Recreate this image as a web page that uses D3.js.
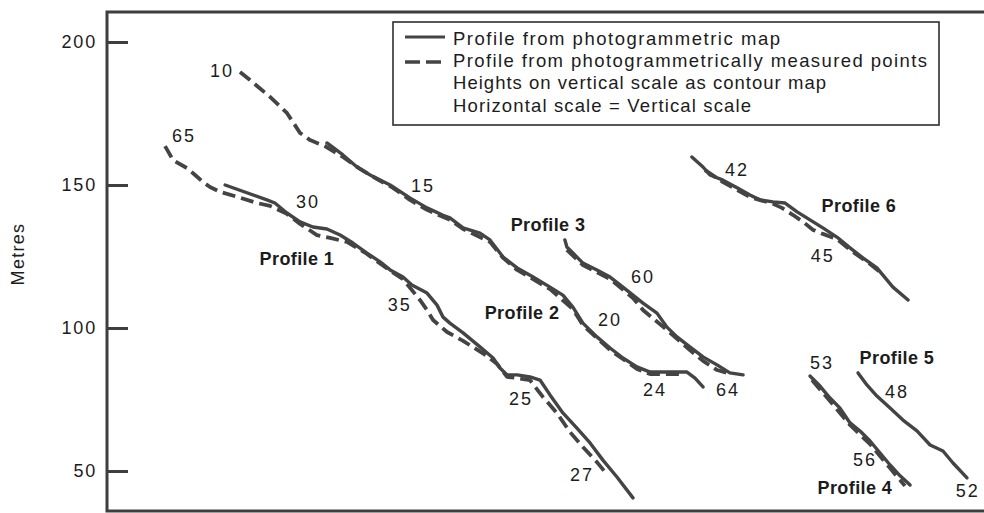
<!DOCTYPE html>
<html>
<head>
<meta charset="utf-8">
<script src="https://cdn.jsdelivr.net/npm/d3@7/dist/d3.min.js"></script>
<style>
  html, body { margin: 0; padding: 0; background: #fff; }
  svg { display: block; }
  text { font-family: "Liberation Sans", Arial, Helvetica, sans-serif; fill: #1c1c1c; }
</style>
</head>
<body>
<svg id="chart" width="984" height="513"></svg>
<script>
// ---- Data (horizontal distance in metres, height in metres) ----
const yTicks = [50, 100, 150, 200];
const yLabel = "Metres";

const profile1Map = [[41.3,150.0],[55.9,144.8],[58.7,143.7],[62.9,140.2],[67.5,137.1],[72.0,135.3],[76.9,134.6],[81.5,132.5],[86.0,129.7],[90.9,126.2],[95.5,123.1],[99.0,120.3],[103.5,117.8],[106.6,115.0],[111.9,112.2],[115.4,108.0],[117.5,103.8],[119.9,101.7],[124.5,98.3],[130.4,93.4],[135.0,89.5],[137.4,86.0],[139.9,83.6],[143.4,83.6],[147.9,82.9],[151.4,81.8],[154.9,76.6],[159.4,70.3],[164.3,65.0],[168.9,59.8],[173.4,53.8],[178.3,47.9],[183.9,40.6]];
const profile1Pts = [[20.3,163.6],[23.1,158.7],[28.0,155.9],[30.8,153.5],[33.6,151.0],[36.0,149.3],[39.5,147.6],[45.8,145.8],[52.4,143.7],[57.0,142.7],[62.9,139.9],[67.5,136.4],[73.4,132.5],[78.0,131.5],[83.9,130.1],[90.9,125.9],[99.0,120.0],[103.5,117.1],[109.4,109.8],[111.9,106.3],[114.0,102.8],[118.9,98.6],[124.5,95.5],[132.9,90.2],[136.4,87.4],[139.9,82.9],[143.4,82.5],[147.9,81.8],[152.4,75.9],[157.3,70.3],[161.9,63.6],[166.4,58.4],[171.3,53.1],[174.1,49.7]];

const profile2Map = [[76.9,164.7],[82.5,160.5],[87.4,156.3],[92.0,153.5],[99.0,150.0],[105.9,145.5],[111.9,142.0],[117.5,139.4],[119.9,138.5],[124.5,135.0],[130.4,133.2],[133.9,130.8],[138.5,124.8],[143.4,121.0],[149.0,117.8],[154.9,114.3],[159.4,111.5],[162.9,107.3],[166.4,101.7],[171.3,96.9],[175.9,93.0],[180.4,89.5],[185.3,86.4],[189.9,84.6],[195.8,84.6],[202.8,84.6],[205.6,82.5],[208.4,79.4]];
const profile2Pts = [[46.5,189.5],[50.0,186.7],[57.0,180.8],[62.9,175.2],[67.5,168.2],[71.0,165.7],[76.2,163.6],[82.5,159.8],[88.5,155.6],[94.4,152.1],[100.0,149.0],[105.9,144.8],[111.9,141.3],[119.9,137.8],[124.5,134.6],[133.9,130.1],[138.5,124.5],[143.4,120.3],[154.9,113.6],[162.9,106.6],[166.4,101.0],[175.9,92.3],[185.3,85.7],[189.9,83.9],[200.3,83.9]];

const profile3Map = [[160.1,130.8],[160.8,128.3],[162.9,126.2],[166.4,122.7],[171.3,120.3],[175.9,117.8],[180.4,114.3],[183.9,111.5],[187.4,108.7],[192.3,105.2],[195.8,100.3],[199.3,96.9],[203.8,93.4],[208.4,89.9],[213.3,87.1],[217.8,84.3],[222.4,83.6]];
const profile3Pts = [[160.8,127.3],[166.4,122.0],[175.9,117.1],[183.9,110.5],[187.4,106.3],[195.8,99.3],[203.8,92.3],[208.4,88.5],[213.3,85.3],[216.8,84.3]];

const profile4Map = [[245.8,83.2],[249.3,79.7],[252.8,75.5],[256.3,72.0],[259.8,66.8],[263.3,64.0],[266.8,60.5],[270.3,56.3],[273.8,52.1],[277.3,48.3],[280.8,45.1]];
const profile4Pts = [[246.5,81.8],[252.8,74.5],[259.8,66.1],[266.8,59.4],[273.8,51.0],[279.0,44.8]];

const profile5Map = [[262.6,84.3],[265.7,80.1],[269.2,76.2],[273.8,72.0],[278.3,67.8],[283.2,64.0],[287.8,59.1],[292.3,57.0],[295.8,52.8],[300.7,47.6]];

const profile6Map = [[204.5,159.8],[208.4,156.3],[210.8,153.5],[215.4,151.7],[220.3,149.0],[224.8,146.5],[228.3,144.8],[232.9,144.1],[237.1,143.7],[241.3,140.6],[245.8,137.8],[250.3,135.0],[255.2,131.8],[259.8,128.0],[264.3,124.5],[269.2,121.0],[271.3,118.5],[274.8,114.3],[280.1,109.8]];
const profile6Pts = [[209.1,155.2],[215.4,151.0],[224.8,145.8],[232.9,143.4],[236.0,142.0],[239.9,139.5],[243.4,137.1],[246.9,134.3],[250.3,132.9],[255.2,131.1],[259.8,127.3],[266.8,122.4],[270.3,119.6]];

const numberLabels = [["10",40.2,189.9],["65",26.9,167.1],["30",70.3,144.1],["15",110.5,149.7],["35",102.4,108.0],["20",175.9,102.8],["25",144.8,75.2],["27",166.1,48.6],["24",191.6,78.3],["64",217.1,78.3],["60",187.4,117.8],["42",220.3,155.2],["45",250.3,125.2],["53",250.0,87.8],["48",276.2,77.6],["56",265.0,53.8],["52",301.0,43.0]];
const profileLabels = [["Profile 1",66.4,124.1],["Profile 2",145.1,105.2],["Profile 3",154.2,136.0],["Profile 4",261.5,44.1],["Profile 5",276.2,89.5],["Profile 6",262.9,142.7]];

const legendLines = ["Profile from photogrammetric map","Profile from photogrammetrically measured points","Heights on vertical scale as contour map","Horizontal scale = Vertical scale"];

// ---- Layout ----
const svg = d3.select("#chart");
const pL = 107, pT = 12, pR = 984, pB = 511;
const pxPerM = 2.86;
const y = d3.scaleLinear().domain([100 - (pB - 328) / pxPerM, 100 + (328 - pT) / pxPerM]).range([pB, pT]);
const x = d3.scaleLinear().domain([0, (pR - pL) / pxPerM]).range([pL, pR]);

const ink = "#444";

// frame
svg.append("path")
  .attr("d", `M${pR+2},${pT}H${pL}V${pB}H${pR+2}`)
  .attr("fill", "none").attr("stroke", "#3e3e3e").attr("stroke-width", 3);

// y axis
const yAxis = d3.axisLeft(y).tickValues(yTicks).tickSizeInner(-21).tickSizeOuter(0).tickPadding(10);
const ga = svg.append("g").attr("transform", `translate(${pL},0)`).call(yAxis);
ga.select(".domain").remove();
ga.selectAll(".tick line").attr("stroke", "#3e3e3e").attr("stroke-width", 3);
ga.selectAll(".tick text").attr("font-size", 18).attr("letter-spacing", 1.8)
  .attr("font-family", '"Liberation Sans", Arial, sans-serif').attr("fill", "#1c1c1c");

svg.append("text").attr("transform", "translate(24,254) rotate(-90)")
  .attr("text-anchor", "middle").attr("font-size", 18).attr("letter-spacing", 1.3).text(yLabel);

// profiles
const line = d3.line().x(d => x(d[0])).y(d => y(d[1]));
const solids = [profile1Map, profile2Map, profile3Map, profile4Map, profile5Map, profile6Map];
const dashed = [profile1Pts, profile2Pts, profile3Pts, profile4Pts, profile6Pts];

svg.append("g").selectAll("path").data(dashed).join("path")
  .attr("d", line).attr("fill", "none").attr("stroke", ink)
  .attr("stroke-width", 3.8).attr("stroke-dasharray", "13,6").attr("stroke-linejoin", "round");
svg.append("g").selectAll("path").data(solids).join("path")
  .attr("d", line).attr("fill", "none").attr("stroke", ink)
  .attr("stroke-width", 3.4).attr("stroke-linejoin", "round").attr("stroke-linecap", "round");

// labels
svg.append("g").selectAll("text").data(numberLabels).join("text")
  .attr("x", d => x(d[1])).attr("y", d => y(d[2]))
  .attr("text-anchor", "middle").attr("dominant-baseline", "central")
  .attr("font-size", 18).attr("letter-spacing", 2).text(d => d[0]);
svg.append("g").selectAll("text").data(profileLabels).join("text")
  .attr("x", d => x(d[1])).attr("y", d => y(d[2]))
  .attr("text-anchor", "middle").attr("dominant-baseline", "central")
  .attr("font-size", 18).attr("font-weight", "bold").attr("letter-spacing", 0.4).text(d => d[0]);

// legend
const lg = svg.append("g");
lg.append("rect").attr("x", 393).attr("y", 22).attr("width", 546).attr("height", 103)
  .attr("fill", "#fff").attr("stroke", "#2e2e2e").attr("stroke-width", 1.6);
lg.append("line").attr("x1", 405).attr("x2", 445).attr("y1", 37).attr("y2", 37)
  .attr("stroke", ink).attr("stroke-width", 3);
lg.append("line").attr("x1", 405).attr("x2", 445).attr("y1", 62).attr("y2", 62)
  .attr("stroke", ink).attr("stroke-width", 3.4).attr("stroke-dasharray", "15,6");
const widths = [327, 474, 373, 298];
lg.selectAll("text.l").data(legendLines).join("text").attr("class", "l")
  .attr("x", 453).attr("y", (d, i) => 45 + i * 22.2)
  .attr("font-size", 18.5).attr("textLength", (d, i) => widths[i]).attr("lengthAdjust", "spacing")
  .text(d => d);
</script>
</body>
</html>
